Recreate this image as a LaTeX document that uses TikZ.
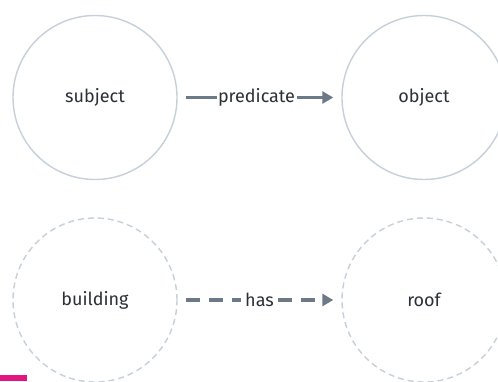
\documentclass[tikz,border=0pt]{standalone}
\usepackage{fontspec}
\setmainfont{Fira Sans}
\usetikzlibrary{arrows.meta}
\definecolor{ringcol}{HTML}{C6D0DA}
\definecolor{linkcol}{HTML}{6C7A87}
\definecolor{textcol}{HTML}{2A3035}
\definecolor{accent}{HTML}{E3167F}
\tikzset{
  entity/.style={circle, draw=ringcol, line width=1.4pt, minimum size=164pt,
    inner sep=0pt, text=textcol, font=\fontsize{18}{20}\selectfont},
  openentity/.style={entity, dash pattern=on 6pt off 4pt},
  link/.style={draw=linkcol, line width=3.6pt, shorten <=8pt, shorten >=8pt,
    -{Triangle[length=11pt,width=12pt]}},
  dashlink/.style={link, dash pattern=on 14pt off 9pt},
  linklabel/.style={fill=white, inner xsep=1.5pt, inner ysep=2pt, text=textcol,
    font=\fontsize{18}{20}\selectfont}
}
\begin{document}
\begin{tikzpicture}[x=1pt,y=1pt]
  \useasboundingbox (0,0) rectangle (498,-381);
  \fill[white] (0,0) rectangle (498,-381);
  % nodes
  \node[entity] (subj) at (95,-97.5) {subject};
  \node[entity] (obj) at (424,-97.5) {object};
  \node[openentity] (bldg) at (95,-300) {building};
  \node[openentity] (roof) at (424,-300) {roof};
  % relations
  \draw[link] (subj) -- node[linklabel, xshift=-3pt] {predicate} (obj);
  \draw[dashlink] (bldg) -- node[linklabel, inner xsep=4pt] {has} (roof);
  % corner marker
  \fill[accent] (0,-375) rectangle (27,-381);
\end{tikzpicture}
\end{document}
